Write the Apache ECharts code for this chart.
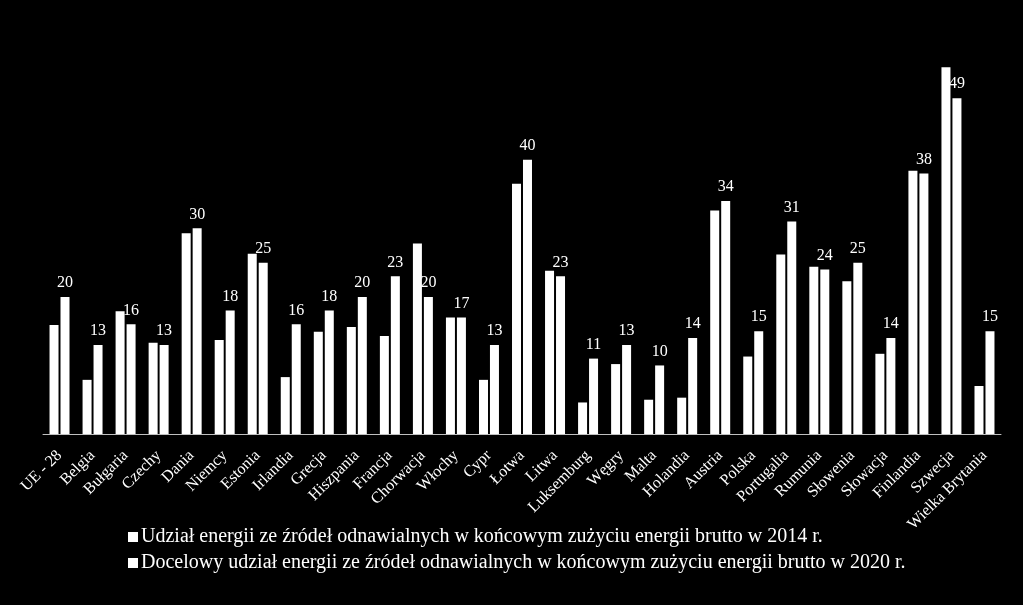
<!DOCTYPE html>
<html>
<head>
<meta charset="utf-8">
<script src="https://cdn.jsdelivr.net/npm/echarts@6/dist/echarts.min.js"></script>
<style>
html,body{margin:0;padding:0;background:#000;}
#chart{width:1023px;height:605px;}
</style>
</head>
<body>
<div id="chart"></div>
<script>
const categories = ['UE - 28','Belgia','Bułgaria','Czechy','Dania','Niemcy','Estonia','Irlandia','Grecja','Hiszpania','Francja','Chorwacja','Włochy','Cypr','Łotwa','Litwa','Luksemburg','Węgry','Malta','Holandia','Austria','Polska','Portugalia','Rumunia','Słowenia','Słowacja','Finlandia','Szwecja','Wielka Brytania'];
const share2014 = [15.9,7.9,17.9,13.3,29.3,13.7,26.3,8.3,14.9,15.6,14.3,27.8,17.0,7.9,36.5,23.8,4.6,10.2,5.0,5.3,32.6,11.3,26.2,24.4,22.3,11.7,38.4,53.5,7.0];
const target2020 = [20,13,16,13,30,18,25,16,18,20,23,20,17,13,40,23,11,13,10,14,34,15,31,24,25,14,38,49,15];
const seriesNames = ['Udział energii ze źródeł odnawialnych w końcowym zużyciu energii brutto w 2014 r.','Docelowy udział energii ze źródeł odnawialnych w końcowym zużyciu energii brutto w 2020 r.'];

const FONT = '"Liberation Serif", "Times New Roman", serif';
const chart = echarts.init(document.getElementById('chart'));
chart.setOption({
  backgroundColor: '#000',
  animation: false,
  textStyle: { fontFamily: FONT },
  grid: { left: 43, right: 22, top: 57, bottom: 171, containLabel: false },
  legend: {
    orient: 'vertical',
    left: 123,
    top: 522,
    itemWidth: 10,
    itemHeight: 10,
    itemGap: 6,
    icon: 'rect',
    textStyle: { color: '#fff', fontSize: 20, fontFamily: FONT, padding: [0,0,0,-2] },
    data: seriesNames
  },
  xAxis: {
    type: 'category',
    data: categories,
    axisLine: { show: true, lineStyle: { color: '#bfbfbf', width: 1 } },
    axisTick: { show: false },
    axisLabel: { color: '#fff', fontSize: 16, fontFamily: FONT, rotate: 45, interval: 0, margin: 19 }
  },
  yAxis: {
    type: 'value',
    min: 0,
    max: 55,
    show: false,
    splitLine: { show: false }
  },
  series: [
    {
      name: seriesNames[0],
      type: 'bar',
      data: share2014,
      barWidth: 9,
      barGap: '22%',
      itemStyle: { color: '#fff' }
    },
    {
      name: seriesNames[1],
      type: 'bar',
      data: target2020,
      barWidth: 9,
      itemStyle: { color: '#fff' },
      label: { show: true, position: 'top', distance: 6, color: '#fff', fontSize: 16, fontFamily: FONT }
    }
  ]
});
</script>
</body>
</html>
